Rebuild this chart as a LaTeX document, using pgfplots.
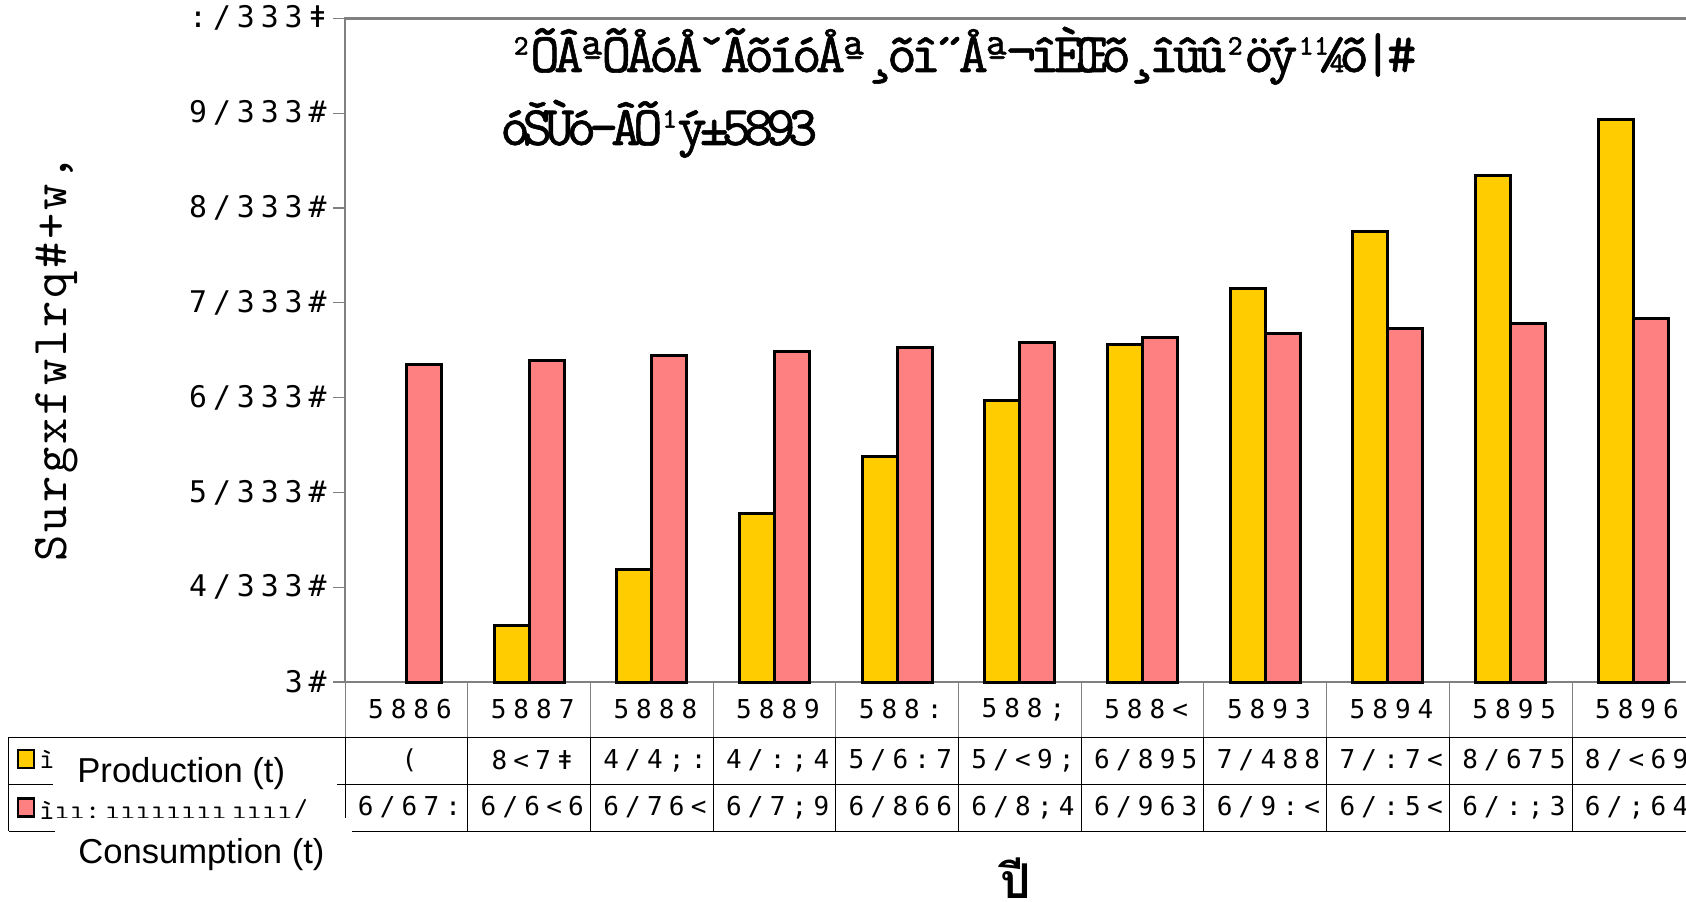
\documentclass[border=0pt]{standalone}
\usepackage{pgfplots}
\pgfplotsset{compat=1.18}
\usepackage{fontspec}
\setmainfont{Liberation Sans}
\newfontfamily\tickfont{DejaVu Sans Mono}[LetterSpace=20]
\newfontfamily\yrfont{DejaVu Sans Mono}[LetterSpace=27]
\newfontfamily\valfont{DejaVu Sans Mono}[LetterSpace=24]
\newfontfamily\slabfont{lmmono10-regular.otf}
\newfontfamily\ylabfont{lmmono10-regular.otf}[LetterSpace=6]
\newfontfamily\titlefont{lmmono10-regular.otf}[LetterSpace=-10,FakeBold=1]
\newfontfamily\titlefontb{lmmono10-regular.otf}[LetterSpace=-13,FakeBold=1]
\newfontfamily\thaifont[Script=Thai]{Loma}
\definecolor{prod}{HTML}{FFCC00}
\definecolor{cons}{HTML}{FF8080}
\definecolor{axgray}{HTML}{808080}
\newcommand\px[2]{({(#1)*0.5pt},{(901-(#2))*0.5pt})}
\newcommand\yrcell[2]{\node[font=\yrfont\fontsize{13pt}{14pt}\selectfont, inner sep=0pt, xshift=1.8pt] at \px{345+122.7*(#1+0.5)}{709.5} {#2};}
\newcommand\pcell[2]{\node[font=\valfont\fontsize{13pt}{14pt}\selectfont, inner sep=0pt, xshift=1.6pt] at \px{345+122.7*(#1+0.5)}{760.5} {#2};}
\newcommand\ccell[2]{\node[font=\valfont\fontsize{13pt}{14pt}\selectfont, inner sep=0pt, xshift=1.6pt] at \px{345+122.7*(#1+0.5)}{807.5} {#2};}
\begin{document}
\begin{tikzpicture}
\fill[white] \px{0}{901} rectangle \px{1686}{0};
\begin{axis}[
  at={(172.5pt,109.5pt)}, anchor=south west,
  scale only axis, width=674.85pt, height=331.85pt,
  xmin=-0.5, xmax=10.5, ymin=0, ymax=7000,
  axis line style={draw=axgray, line width=1.4pt},
  xtick=\empty,
  ytick={0,1000,2000,3000,4000,5000,6000,7000},
  yticklabels={3\#,4/333\#,5/333\#,6/333\#,7/333\#,8/333\#,9/333\#,:/333ǂ},
  ytick pos=left, tick align=outside, major tick length=6pt,
  ytick style={draw=axgray, line width=0.6pt},
  yticklabel style={font=\tickfont\fontsize{14.9pt}{16pt}\selectfont, inner sep=0pt, xshift=-3pt},
  clip=false,
]
\addplot[ybar, bar width=17.5pt, bar shift=-8.75pt, fill=prod, draw=black, line width=1.5pt]
  coordinates {(1,594) (2,1187) (3,1781) (4,2374) (5,2968) (6,3562) (7,4155) (8,4749) (9,5342) (10,5936)};
\addplot[ybar, bar width=17.5pt, bar shift=8.75pt, fill=cons, draw=black, line width=1.5pt]
  coordinates {(0,3347) (1,3393) (2,3439) (3,3486) (4,3533) (5,3581) (6,3630) (7,3679) (8,3729) (9,3780) (10,3831)};
\end{axis}
% data table grid
\foreach \k in {0,...,11} {
  \draw[axgray, line width=0.5pt] \px{345+122.7*\k}{682} -- \px{345+122.7*\k}{737};
  \draw[black, line width=0.5pt] \px{345+122.7*\k}{737} -- \px{345+122.7*\k}{831};
}
\draw[black, line width=0.5pt] \px{8.6}{737} -- \px{1700}{737};
\draw[black, line width=0.5pt] \px{8.6}{784} -- \px{1700}{784};
\draw[black, line width=0.5pt] \px{8.6}{831} -- \px{1700}{831};
\draw[black, line width=0.5pt] \px{8.6}{737} -- \px{8.6}{831};
% year row
\yrcell{0}{5886}\yrcell{1}{5887}\yrcell{2}{5888}\yrcell{3}{5889}\yrcell{4}{588:}\yrcell{5}{588;}
\yrcell{6}{588<}\yrcell{7}{5893}\yrcell{8}{5894}\yrcell{9}{5895}\yrcell{10}{5896}
% production row
\pcell{0}{(}\pcell{1}{8<7ǂ}\pcell{2}{4/4;:}\pcell{3}{4/:;4}\pcell{4}{5/6:7}\pcell{5}{5/<9;}
\pcell{6}{6/895}\pcell{7}{7/488}\pcell{8}{7/:7<}\pcell{9}{8/675}\pcell{10}{8/<69}
% consumption row
\ccell{0}{6/67:}\ccell{1}{6/6<6}\ccell{2}{6/76<}\ccell{3}{6/7;9}\ccell{4}{6/866}\ccell{5}{6/8;4}
\ccell{6}{6/963}\ccell{7}{6/9:<}\ccell{8}{6/:5<}\ccell{9}{6/:;3}\ccell{10}{6/;64}
% legend keys
\filldraw[fill=prod, draw=black, line width=1.3pt] \px{18}{750} rectangle \px{34}{768};
\filldraw[fill=cons, draw=black, line width=1.3pt] \px{18}{798.5} rectangle \px{34}{816.5};
% garbled row labels
\node[font=\slabfont\fontsize{14.5pt}{16pt}\selectfont, anchor=base west, inner sep=0pt] at \px{39}{768} {ìÅ¤ªÕÅ¹¼¦¼·Ä\#+ëÑ,};
\node[font=\slabfont\fontsize{14.5pt}{16pt}\selectfont, anchor=base west, inner sep=0pt] at \px{39}{819} {ìıı:\,ıııııııı\,ıııı/};
% white overlay boxes with English labels
\fill[white] \px{53}{742} rectangle \px{337}{795};
\fill[white] \px{55}{818} rectangle \px{352}{878};
\node[font=\fontsize{17.3pt}{18pt}\selectfont, anchor=base west, inner sep=0pt] at \px{77}{782} {Production (t)};
\node[font=\fontsize{17.3pt}{18pt}\selectfont, anchor=base west, inner sep=0pt] at \px{78}{863} {Consumption (t)};
% y label
\node[rotate=90, font=\ylabfont\fontsize{25pt}{26pt}\selectfont, inner sep=0pt] at \px{57}{358} {Surgxfwlrq\#+w,};
% title
\node[font=\titlefont\fontsize{28pt}{30pt}\selectfont, anchor=base west, inner sep=0pt] at \px{506}{72} {²ÕÂªÕÅóÅˇÃõíóÅª¸õî˝Åª¬îÈŒõ¸îûû²öý¹¼õ|\#};
\node[font=\titlefontb\fontsize{28pt}{30pt}\selectfont, anchor=base west, inner sep=0pt] at \px{500}{145} {óŠÙó–ÂÕ¹ý±5893};
% x label
\node[font=\thaifont\bfseries\fontsize{24pt}{26pt}\selectfont, inner sep=0pt] at \px{1016}{878} {ปี};
\pgfresetboundingbox
\useasboundingbox \px{0}{901} rectangle \px{1686}{0};
\end{tikzpicture}
\end{document}
